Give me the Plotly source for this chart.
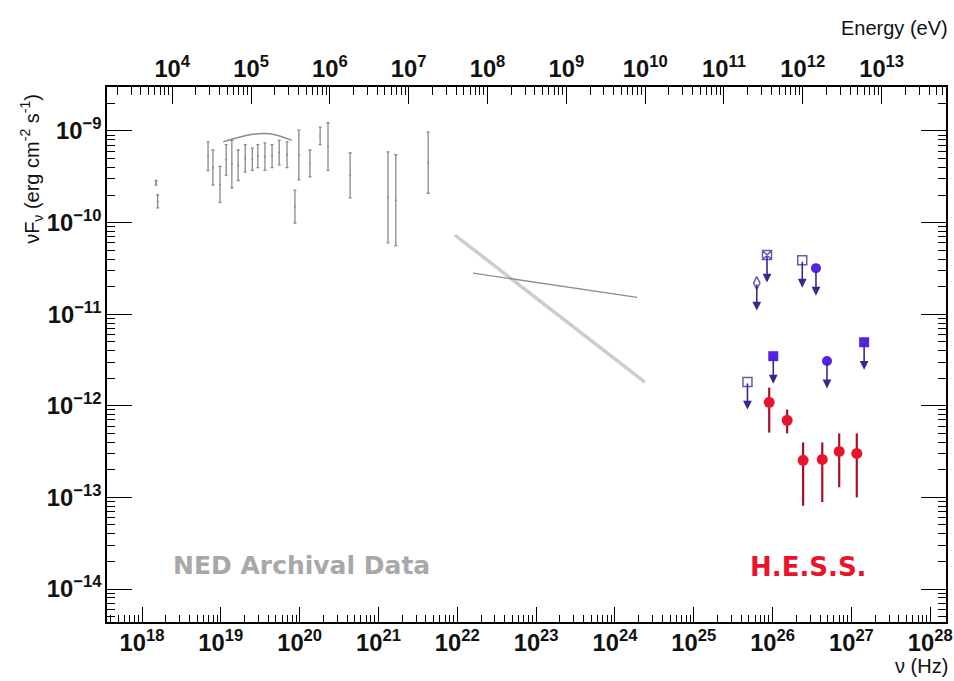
import numpy as np
import plotly.graph_objects as go

H_EV_S = 4.1357e-15  # Planck constant, eV s

# ---------------- H.E.S.S. detections ----------------
hess_nu = [9.06e25, 1.53e26, 2.44e26, 4.27e26, 7.0e26, 1.17e27]
hess_f = [1.09e-12, 6.95e-13, 2.54e-13, 2.60e-13, 3.18e-13, 3.02e-13]
hess_fhi = [1.58e-12, 9.1e-13, 3.98e-13, 3.98e-13, 5.0e-13, 5.0e-13]
hess_flo = [5.1e-13, 5.0e-13, 8.1e-14, 8.9e-14, 1.29e-13, 1.0e-13]

# ---------------- upper limits ----------------
ul_fill_nu = [1.02e26, 4.9e26, 1.45e27, 3.55e26]
ul_fill_f = [3.48e-12, 3.09e-12, 4.94e-12, 3.18e-11]
ul_fill_sym = ["square", "circle", "square", "circle"]

ul_open_nu = [8.5e25, 6.3e25, 2.38e26, 4.8e25]
ul_open_f = [4.42e-11, 2.19e-11, 3.89e-11, 1.82e-12]
ul_open_sym = ["square-x-open", "diamond-tall-open", "square-open", "square-open"]

# ---------------- NED archival data ----------------
ned_nu = [1.51e18, 1.58e18, 6.89e18, 7.94e18, 9.77e18, 1.17e19, 1.38e19, 1.66e19,
          2.04e19, 2.51e19, 2.95e19, 3.63e19, 4.47e19, 5.5e19, 6.92e19, 8.71e19,
          9.77e19, 1.35e20, 1.82e20, 2.29e20, 4.37e20, 1.32e21, 1.66e21, 4.27e21]
ned_fhi = [2.88e-10, 2.0e-10, 7.6e-10, 6.2e-10, 4.1e-10, 7.1e-10, 7.9e-10, 6.2e-10,
           7.1e-10, 6.5e-10, 7.1e-10, 7.4e-10, 7.1e-10, 7.9e-10, 7.6e-10, 2.26e-10,
           1.02e-09, 6.2e-10, 1.1e-09, 1.23e-09, 5.75e-10, 5.9e-10, 5.5e-10, 9.8e-10]
ned_flo = [2.57e-10, 1.45e-10, 3.7e-10, 2.57e-10, 1.66e-10, 3.3e-10, 2.4e-10, 2.88e-10,
           3.55e-10, 3.72e-10, 3.98e-10, 3.72e-10, 3.98e-10, 4.27e-10, 3.98e-10, 9.9e-11,
           2.92e-10, 3.16e-10, 7.1e-10, 3.72e-10, 1.86e-10, 6.0e-11, 5.6e-11, 2.09e-10]

ned_model_nu = [1.07e19, 2.34e19, 4.17e19, 7.94e19]
ned_model_f = [7.6e-10, 9.1e-10, 9.3e-10, 7.9e-10]

pl_steep_nu = [9.33e21, 2.40e24]
pl_steep_f = [7.3e-11, 1.81e-12]
pl_flat_nu = [1.58e22, 1.91e24]
pl_flat_f = [2.81e-11, 1.53e-11]

x_range_log = [17.556, 28.2]
y_range_log = [-14.36, -8.52]

FONT = "Liberation Sans, Arial, sans-serif"
WIDE_BOLD = "DejaVu Sans, Verdana, sans-serif"
GREY = "#8a8a8a"
RED = "#e8142c"
DARKRED = "#a8102a"
BLUE = "#5522e6"
NAVY = "#3a2890"

fig = go.Figure()

# NED error bars
ned_f = [np.sqrt(a * b) for a, b in zip(ned_fhi, ned_flo)]
fig.add_trace(go.Scatter(
    x=ned_nu, y=ned_f, mode="markers",
    marker=dict(size=2, color=GREY),
    error_y=dict(type="data", symmetric=False,
                 array=[h - c for h, c in zip(ned_fhi, ned_f)],
                 arrayminus=[c - l for c, l in zip(ned_f, ned_flo)],
                 color=GREY, thickness=1.3, width=1.5),
    showlegend=False, hoverinfo="skip"))
fig.add_trace(go.Scatter(x=ned_model_nu, y=ned_model_f, mode="lines",
                         line=dict(color=GREY, width=1.5, shape="spline"),
                         showlegend=False, hoverinfo="skip"))
fig.add_trace(go.Scatter(x=pl_steep_nu, y=pl_steep_f, mode="lines",
                         line=dict(color="#cdcdcd", width=3.5),
                         showlegend=False, hoverinfo="skip"))
fig.add_trace(go.Scatter(x=pl_flat_nu, y=pl_flat_f, mode="lines",
                         line=dict(color="#8e8e8e", width=1.3),
                         showlegend=False, hoverinfo="skip"))

# upper-limit arrows
ARROW_DEX = 0.30
for nu, f in list(zip(ul_fill_nu, ul_fill_f)) + list(zip(ul_open_nu, ul_open_f)):
    fig.add_annotation(x=np.log10(nu), y=np.log10(f) - ARROW_DEX,
                       ax=np.log10(nu), ay=np.log10(f),
                       xref="x", yref="y", axref="x", ayref="y",
                       text="", showarrow=True, arrowhead=2, arrowsize=1.1,
                       arrowwidth=1.6, arrowcolor=NAVY)

fig.add_trace(go.Scatter(x=ul_fill_nu, y=ul_fill_f, mode="markers",
                         marker=dict(size=10, color=BLUE, symbol=ul_fill_sym),
                         showlegend=False, hoverinfo="skip"))
fig.add_trace(go.Scatter(x=ul_open_nu, y=ul_open_f, mode="markers",
                         marker=dict(size=9, color="#6a5aa8", symbol=ul_open_sym,
                                     line=dict(width=1.5, color="#5a4aa0")),
                         showlegend=False, hoverinfo="skip"))

# H.E.S.S. points
fig.add_trace(go.Scatter(
    x=hess_nu, y=hess_f, mode="markers",
    marker=dict(size=11, color=RED, symbol="circle"),
    error_y=dict(type="data", symmetric=False,
                 array=[h - c for h, c in zip(hess_fhi, hess_f)],
                 arrayminus=[c - l for c, l in zip(hess_f, hess_flo)],
                 color=DARKRED, thickness=2.2, width=0),
    showlegend=False, hoverinfo="skip"))

# invisible trace on the energy axis
fig.add_trace(go.Scatter(x=[n * H_EV_S for n in hess_nu], y=hess_f, xaxis="x2",
                         mode="markers", marker=dict(opacity=0),
                         showlegend=False, hoverinfo="skip"))

tickfont = dict(family=FONT, size=19, color="#111111", weight="bold")
common = dict(type="log", dtick=1, exponentformat="power", showgrid=False,
              zeroline=False, showline=True, linecolor="black", linewidth=1.5,
              ticks="inside", tickcolor="black", tickwidth=1.2, tickfont=tickfont,
              automargin=False)

fig.update_layout(
    width=954, height=681,
    margin=dict(l=107, r=8, t=87, b=59),
    paper_bgcolor="white", plot_bgcolor="white",
    xaxis=dict(range=x_range_log, ticklen=15,
               minor=dict(ticks="inside", ticklen=7, tickcolor="black", tickwidth=1),
               **common),
    xaxis2=dict(range=[x_range_log[0] + np.log10(H_EV_S), x_range_log[1] + np.log10(H_EV_S)],
                overlaying="x", side="top", anchor="y", ticklen=17,
                minor=dict(ticks="inside", ticklen=8, tickcolor="black", tickwidth=1),
                **common),
    yaxis=dict(range=y_range_log, ticklen=25, mirror="ticks",
               minor=dict(ticks="inside", ticklen=8, tickcolor="black", tickwidth=1),
               **common),
)

fig.add_annotation(text="Energy (eV)", x=1.005, y=1.11, xref="paper", yref="paper",
                   xanchor="right", yanchor="middle", showarrow=False,
                   font=dict(family=FONT, size=20, color="#111111"))
fig.add_annotation(text="ν (Hz)", x=1.005, y=-0.083, xref="paper", yref="paper",
                   xanchor="right", yanchor="middle", showarrow=False,
                   font=dict(family=FONT, size=20, color="#111111"))
fig.add_annotation(text="νF<sub>ν</sub> (erg cm<sup>-2</sup> s<sup>-1</sup>)",
                   x=-0.0894, y=0.847, xref="paper", yref="paper",
                   xanchor="center", yanchor="middle", textangle=-90, showarrow=False,
                   font=dict(family=FONT, size=20, color="#111111"))
fig.add_annotation(text="<b>NED Archival Data</b>", x=0.2324, y=0.1047,
                   xref="paper", yref="paper", xanchor="center", yanchor="middle",
                   showarrow=False, font=dict(family=WIDE_BOLD, size=25, color="#a8a8a8"))
fig.add_annotation(text="<b>H.E.S.S.</b>", x=0.8355, y=0.103,
                   xref="paper", yref="paper", xanchor="center", yanchor="middle",
                   showarrow=False, font=dict(family=WIDE_BOLD, size=26, color=RED))

fig.write_html("out.html")
